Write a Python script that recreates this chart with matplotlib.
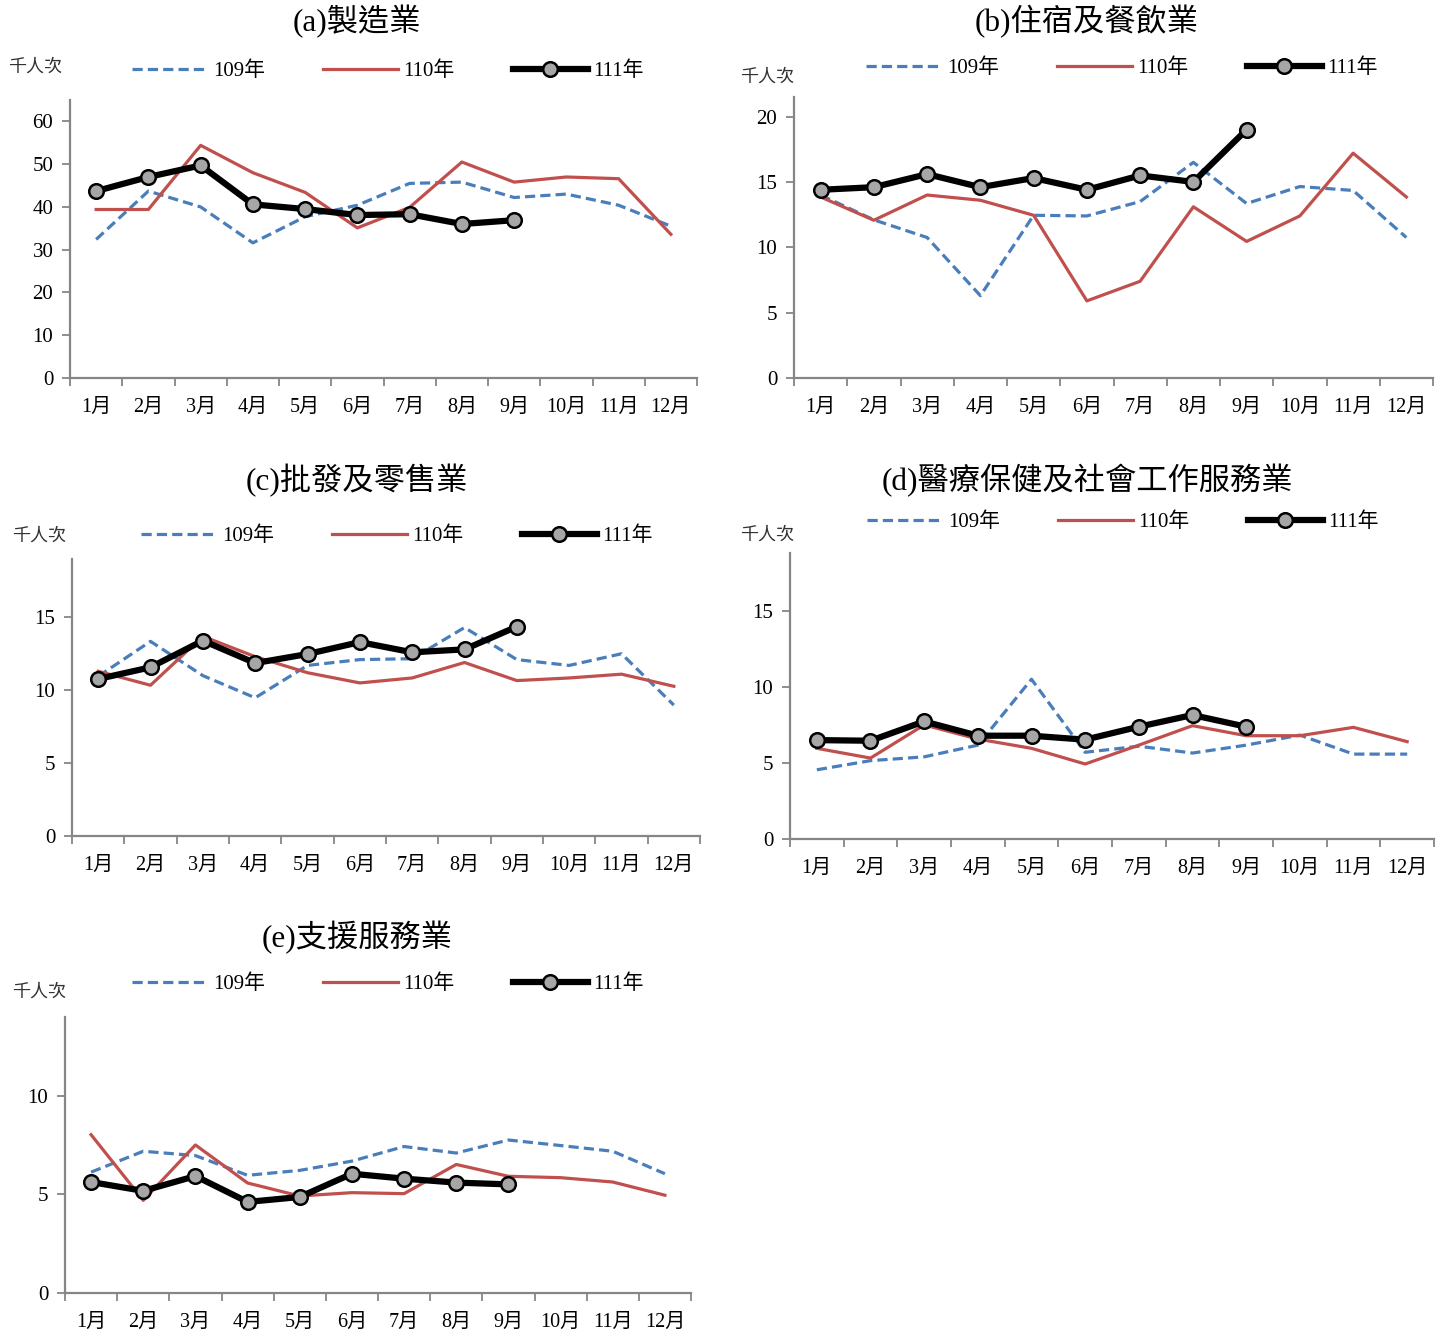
import matplotlib
matplotlib.use("Agg")
import matplotlib.pyplot as plt
from matplotlib.ticker import FixedLocator, NullFormatter, FixedFormatter

plt.rcParams['font.family'] = ['Liberation Serif', 'Noto Sans CJK TC', 'DejaVu Sans']

months = ["1月", "2月", "3月", "4月", "5月", "6月", "7月", "8月", "9月", "10月", "11月", "12月"]
series_names = ["109年", "110年", "111年"]
unit_label = "千人次"

titles = ["(a)製造業", "(b)住宿及餐飲業", "(c)批發及零售業", "(d)醫療保健及社會工作服務業", "(e)支援服務業"]

# (a) 製造業
a_109 = [32.4, 43.7, 40.0, 31.6, 37.7, 40.4, 45.5, 45.8, 42.2, 43.0, 40.4, 35.5]
a_110 = [39.4, 39.4, 54.4, 48.0, 43.4, 35.1, 39.9, 50.5, 45.8, 47.0, 46.6, 33.6]
a_111 = [43.7, 47.0, 49.7, 40.6, 39.5, 38.1, 38.3, 36.0, 36.9]
a_ticks = [0, 10, 20, 30, 40, 50, 60]
a_ymax = 65

# (b) 住宿及餐飲業
b_109 = [14.0, 12.1, 10.75, 6.3, 12.45, 12.4, 13.5, 16.5, 13.35, 14.65, 14.35, 10.75]
b_110 = [13.85, 12.07, 14.0, 13.6, 12.45, 5.9, 7.4, 13.1, 10.45, 12.4, 17.2, 13.85]
b_111 = [14.4, 14.6, 15.6, 14.6, 15.3, 14.4, 15.5, 15.0, 19.0]
b_ticks = [0, 5, 10, 15, 20]
b_ymax = 21.5

# (c) 批發及零售業
c_109 = [10.95, 13.35, 11.0, 9.48, 11.7, 12.1, 12.16, 14.3, 12.1, 11.7, 12.5, 8.98]
c_110 = [11.3, 10.34, 13.7, 12.3, 11.2, 10.5, 10.84, 11.9, 10.66, 10.84, 11.1, 10.27]
c_111 = [10.77, 11.57, 13.4, 11.86, 12.48, 13.3, 12.6, 12.8, 14.36]
c_ticks = [0, 5, 10, 15]
c_ymax = 19

# (d) 醫療保健及社會工作服務業
d_109 = [4.55, 5.15, 5.4, 6.17, 10.5, 5.7, 6.1, 5.65, 6.17, 6.83, 5.58, 5.58]
d_110 = [5.96, 5.32, 7.5, 6.57, 5.96, 4.93, 6.17, 7.45, 6.79, 6.79, 7.34, 6.4]
d_111 = [6.5, 6.46, 7.73, 6.79, 6.79, 6.53, 7.38, 8.15, 7.38]
d_ticks = [0, 5, 10, 15]
d_ymax = 18.8

# (e) 支援服務業
e_109 = [6.13, 7.19, 6.97, 5.97, 6.22, 6.69, 7.43, 7.1, 7.76, 7.48, 7.19, 6.05]
e_110 = [8.03, 4.7, 7.51, 5.58, 4.92, 5.09, 5.04, 6.52, 5.92, 5.85, 5.63, 4.96]
e_111 = [5.63, 5.18, 5.93, 4.62, 4.87, 6.05, 5.8, 5.6, 5.51]
e_ticks = [0, 5, 10]
e_ymax = 14

W, H = 1446, 1331
fig = plt.figure(figsize=(W / 100, H / 100), dpi=100)

# layout in pixels: (x0, ytop, x1, ybottom), title pos, legend center, unit label pos
layouts = [
    dict(box=(70, 100, 697, 378), title=(357, 22), leg=(388, 71), unit=(8, 67)),
    dict(box=(794, 97, 1433, 378), title=(1087, 22), leg=(1122, 68), unit=(740, 77)),
    dict(box=(72, 559, 700, 836), title=(357, 481), leg=(397, 536), unit=(12, 536)),
    dict(box=(790, 553, 1434, 839), title=(1087, 481), leg=(1123, 522), unit=(740, 535)),
    dict(box=(65, 1017, 691, 1293), title=(357, 938), leg=(388, 984), unit=(12, 992)),
]

panels = [
    (a_109, a_110, a_111, a_ticks, a_ymax),
    (b_109, b_110, b_111, b_ticks, b_ymax),
    (c_109, c_110, c_111, c_ticks, c_ymax),
    (d_109, d_110, d_111, d_ticks, d_ymax),
    (e_109, e_110, e_111, e_ticks, e_ymax),
]

blue = "#4A7EBB"
red = "#C0504D"
axis_grey = "#868686"

for (s109, s110, s111, yt, ymax), lay, title in zip(panels, layouts, titles):
    x0, yt0, x1, yb = lay["box"]
    ax = fig.add_axes([x0 / W, 1 - yb / H, (x1 - x0) / W, (yb - yt0) / H])
    l1, = ax.plot(range(len(s109)), s109, color=blue, lw=2.3, ls=(0, (3.2, 1.6)), label=series_names[0])
    l2, = ax.plot(range(len(s110)), s110, color=red, lw=2.3, label=series_names[1])
    l3, = ax.plot(range(len(s111)), s111, color="black", lw=4.5, marker="o", markersize=10.5,
                  markerfacecolor="#A6A6A6", markeredgecolor="black", markeredgewidth=1.8,
                  label=series_names[2], zorder=5)
    ax.set_xlim(-0.5, len(months) - 0.5)
    ax.set_ylim(0, ymax)
    ax.xaxis.set_major_locator(FixedLocator([i - 0.5 for i in range(len(months) + 1)]))
    ax.xaxis.set_major_formatter(NullFormatter())
    ax.xaxis.set_minor_locator(FixedLocator(list(range(len(months)))))
    ax.xaxis.set_minor_formatter(FixedFormatter(months))
    ax.tick_params(axis="x", which="minor", length=0, labelsize=14.5, pad=14)
    ax.tick_params(axis="x", which="major", length=6, width=1.3, color=axis_grey, direction="out")
    ax.set_yticks(yt)
    ax.tick_params(axis="y", length=6, width=1.3, color=axis_grey, labelsize=15, pad=6)
    for sp in ["top", "right"]:
        ax.spines[sp].set_visible(False)
    for sp in ["left", "bottom"]:
        ax.spines[sp].set_color(axis_grey)
        ax.spines[sp].set_linewidth(1.6)
    ax.set_facecolor("none")

    tx, ty = lay["title"]
    fig.text(tx / W, 1 - ty / H, title, ha="center", va="center", fontsize=22.5)
    ux, uy = lay["unit"]
    fig.text(ux / W, 1 - uy / H, unit_label, ha="left", va="center", fontsize=13, color="#333333")
    lx, ly = lay["leg"]
    ax.legend(handles=[l1, l2, l3], loc="center", bbox_to_anchor=(lx / W, 1 - ly / H),
              bbox_transform=fig.transFigure, ncol=3, frameon=False, fontsize=15,
              handlelength=3.6, handletextpad=0.25, columnspacing=2.8, borderpad=0, borderaxespad=0)

fig.savefig("out.png", dpi=100, facecolor="white")
